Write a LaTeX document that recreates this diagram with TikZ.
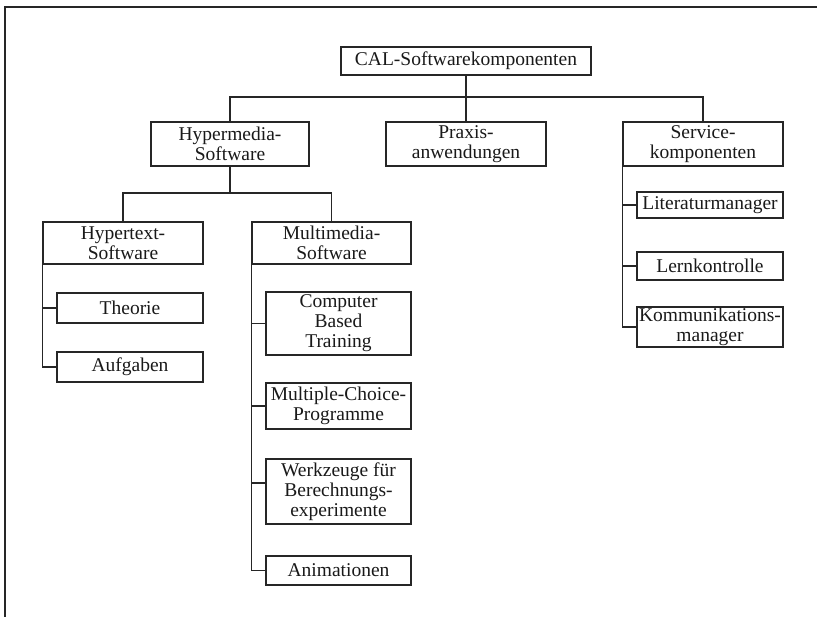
\documentclass[tikz,border=0pt]{standalone}
\usepackage{fontspec}
\setmainfont{Liberation Serif}
\newcommand\boxfont{\fontsize{19.5}{20}\selectfont}
\begin{document}
\begin{tikzpicture}[x=1pt,y=-1pt,
  box/.style={draw=black!85, line width=1.1pt, inner sep=0pt, align=center,
    font=\boxfont, text=black!90},
  conn/.style={draw=black!85, line width=1.1pt},
  frameline/.style={draw=black!85, line width=1.6pt}]
\useasboundingbox (0,0) rectangle (817,617);
% frame
\draw[frameline] (5,617) -- (5,7) -- (817,7);
% nodes
\node[box, minimum width=250, minimum height=28] (cal) at (466,61) {CAL-Softwarekomponenten};
\node[box, minimum width=158, minimum height=44] (hyp) at (230,144) {Hypermedia-\\Software};
\node[box, minimum width=160, minimum height=44] (prax) at (466,144) {Praxis-\\anwendungen};
\node[box, minimum width=160, minimum height=44] (serv) at (703,144) {Service-\\komponenten};
\node[box, minimum width=160, minimum height=42] (htx) at (123,243) {Hypertext-\\Software};
\node[box, minimum width=159, minimum height=42] (mm) at (331.5,243) {Multimedia-\\Software};
\node[box, minimum width=146, minimum height=30] (theo) at (130,308) {Theorie};
\node[box, minimum width=146, minimum height=30] (aufg) at (130,367) {Aufgaben};
\node[box, minimum width=145, minimum height=63] (cbt) at (338.5,323.5) {Computer\\Based\\Training};
\node[box, minimum width=145, minimum height=46] (mc) at (338.5,406) {Multiple-Choice-\\Programme};
\node[box, minimum width=145, minimum height=65] (werk) at (338.5,491.5) {Werkzeuge für\\Berechnungs-\\experimente};
\node[box, minimum width=145, minimum height=29] (anim) at (338.5,570.5) {Animationen};
\node[box, minimum width=146, minimum height=26] (lit) at (710,205) {Literaturmanager};
\node[box, minimum width=146, minimum height=28] (lern) at (710,266) {Lernkontrolle};
\node[box, minimum width=146, minimum height=40] (komm) at (710,327) {Kommunikations-\\manager};
% bus coordinates
\coordinate (b1) at (466,97);
\coordinate (b2) at (230,193);
\coordinate (wk) at (0,483);
% top level
\draw[conn] (cal.south) -- (prax.north);
\draw[conn] (hyp.north) |- (b1) -| (serv.north);
% second level
\draw[conn] (hyp.south) -- (b2);
\draw[conn] (htx.north) |- (b2) -| (mm.north);
% hypertext children
\draw[conn] (htx.south west) |- (aufg.west);
\draw[conn] (htx.south west |- theo.west) -- (theo.west);
% multimedia children
\draw[conn] (mm.south west) |- (anim.west);
\draw[conn] (mm.south west |- cbt.west) -- (cbt.west);
\draw[conn] (mm.south west |- mc.west) -- (mc.west);
\draw[conn] (mm.south west |- wk) -- (werk.west |- wk);
% service children
\draw[conn] (serv.south west) |- (komm.west);
\draw[conn] (serv.south west |- lit.west) -- (lit.west);
\draw[conn] (serv.south west |- lern.west) -- (lern.west);
\end{tikzpicture}
\end{document}
